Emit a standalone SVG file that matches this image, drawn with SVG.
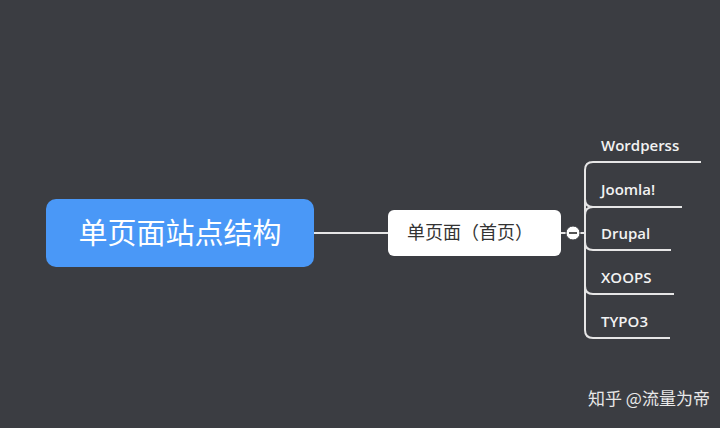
<svg xmlns="http://www.w3.org/2000/svg" width="720" height="428" viewBox="0 0 720 428">
<style>
.lbl{font-family:"Open Sans","Noto Sans",sans-serif;font-size:15px;font-weight:600;fill:#f2f2f2}
.ln{stroke:#e6e6e6;stroke-width:2;fill:none}
</style>
<rect width="720" height="428" fill="#3b3d42"/>
<g id="connectors">
<line class="ln" x1="314" y1="233" x2="388" y2="233"/>
<line class="ln" x1="561" y1="233" x2="585" y2="233"/>
<path class="ln" d="M701 162H593Q585 162 585 170V330Q585 338 593 338H670"/>
<path class="ln" d="M682 207H593Q585 207 585 199M585 215Q585 207 593 207"/>
<path class="ln" d="M585 242Q585 250 593 250H671"/>
<path class="ln" d="M585 286Q585 294 593 294H674"/>
</g>
<g id="root">
<rect x="46" y="199" width="268" height="68" rx="10" fill="#4a98f7"/>
<text x="180" y="244" text-anchor="middle" font-family="Noto Sans CJK SC,sans-serif" font-size="29" fill="#fff">单页面站点结构</text>
</g>
<g id="home">
<rect x="388" y="210" width="173" height="46" rx="6" fill="#fff"/>
<text x="470" y="239" text-anchor="middle" font-family="Noto Sans CJK SC,sans-serif" font-size="18" fill="#333">单页面（首页）</text>
<circle cx="573" cy="233" r="7" fill="#fff" stroke="#3b3d42" stroke-width="1"/>
<line x1="569" y1="233" x2="577" y2="233" stroke="#555" stroke-width="2"/>
</g>
<g id="n1"><text class="lbl" x="601" y="151">Wordperss</text></g>
<g id="n2"><text class="lbl" x="601" y="195">Joomla!</text></g>
<g id="n3"><text class="lbl" x="601" y="239">Drupal</text></g>
<g id="n4"><text class="lbl" x="601" y="283">XOOPS</text></g>
<g id="n5"><text class="lbl" x="601" y="327">TYPO3</text></g>
<text x="588" y="405" font-family="Noto Sans CJK SC,sans-serif" font-size="17" fill="#e8e8e8">知乎 @流量为帝</text>
</svg>
